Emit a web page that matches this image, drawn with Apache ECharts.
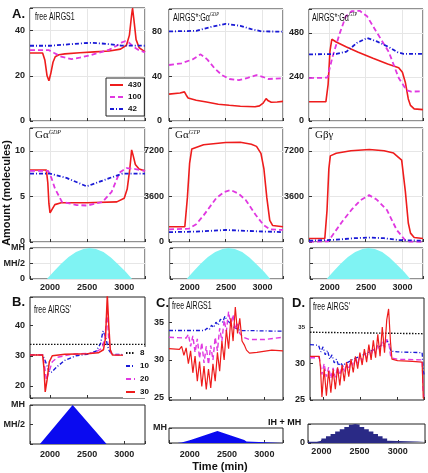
<!DOCTYPE html>
<html>
<head>
<meta charset="utf-8">
<script src="https://cdn.jsdelivr.net/npm/echarts@6/dist/echarts.min.js"></script>
<style>
  html, body { margin: 0; padding: 0; background: #fff; }
  #main { width: 428px; height: 473px; }
</style>
</head>
<body>
<div id="main"></div>
<script>
// ---- data (time in min, amount in molecules) ----
var xTicks = [2000, 2500, 3000];

// A. free AIRGS1
var a1Red  = [[1730,30.1],[1900,30.1],[1930,27],[1960,20],[1985,17.8],[2010,21],[2040,26],[2070,28.4],[2120,29.3],[2200,29.7],[2400,30.2],[2600,30.6],[2800,31.0],[2950,31.8],[3030,33.5],[3070,38],[3100,47],[3112,50],[3130,45],[3160,36],[3200,32.5],[3280,30.6]];
var a1Mag  = [[1730,31.4],[1980,31.4],[2050,30.2],[2150,28.5],[2290,27.4],[2400,28],[2550,29.2],[2700,30.6],[2800,31.6],[2900,33.3],[2970,34.8],[3010,35.3],[3060,34.8],[3120,33],[3200,31.3],[3280,30.4]];
var a1Blue = [[1730,33.3],[2000,33.3],[2200,33.8],[2400,34.3],[2550,34.6],[2700,34.3],[2850,33.8],[2950,33.4],[3280,33.3]];
// A. AIRGS*:Ga-GDP
var a2Red  = [[1730,24],[1880,25],[1940,26],[1965,23],[1990,20.5],[2100,18.5],[2240,17],[2400,15],[2550,14],[2700,13.2],[2900,12.7],[2960,13.5],[3010,16],[3050,20],[3080,18],[3120,16.7],[3200,17],[3280,17.5]];
var a2Mag  = [[1730,50],[1900,51.5],[2050,55],[2160,59.5],[2250,55],[2350,47],[2450,41],[2550,37.5],[2680,36.5],[2800,38.5],[2920,41],[3000,39.5],[3080,37.5],[3280,38.2]];
var a2Blue = [[1730,80],[2100,80.5],[2300,84],[2500,86.8],[2700,85],[2850,82],[2990,80],[3280,79.8]];
// A. AIRGS*:Ga-GTP
var a3Red  = [[1730,105],[1960,105],[1990,200],[2015,380],[2040,445],[2100,430],[2240,403],[2400,375],[2600,342],[2800,310],[2950,290],[3000,265],[3040,210],[3080,120],[3110,85],[3160,66],[3280,62]];
var a3Mag  = [[1730,234],[1980,236],[2050,350],[2150,480],[2230,570],[2310,598],[2420,600],[2520,570],[2640,490],[2815,376],[2950,234],[3056,168],[3120,160],[3280,162]];
var a3Blue = [[1730,363],[2100,365],[2240,378],[2380,425],[2520,452],[2660,432],[2815,403],[2930,375],[3016,366],[3280,365]];
// A. Ga-GDP
var a4Red  = [[1730,7.9],[1950,7.9],[1970,6.5],[1985,4.2],[2000,3.2],[2025,3.3],[2065,4.1],[2150,4.3],[2500,4.3],[2900,4.4],[3000,4.8],[3040,5.8],[3075,8],[3100,10.1],[3120,9.5],[3150,8.5],[3200,8.0],[3280,7.8]];
var a4Mag  = [[1730,7.8],[1975,7.8],[2020,7],[2065,5.9],[2160,4.4],[2360,4.05],[2500,4.0],[2708,4.4],[2830,5.5],[2936,7.6],[3030,8.1],[3150,8.0],[3280,7.8]];
var a4Blue = [[1730,7.5],[2000,7.5],[2230,7.0],[2494,6.1],[2800,7.0],[2976,7.5],[3280,7.5]];
// A. Ga-GTP
var a5Red  = [[1730,1200],[1945,1200],[1980,3500],[2010,6200],[2040,7350],[2200,7680],[2500,7850],[2700,7870],[2850,7720],[2920,7550],[2980,7000],[3020,5800],[3060,3500],[3100,1700],[3140,1300],[3280,1200]];
var a5Mag  = [[1730,1000],[2000,1050],[2100,1400],[2200,2100],[2370,3450],[2480,3950],[2570,4100],[2680,3800],[2775,3300],[2910,2130],[3016,1340],[3100,1000],[3280,950]];
var a5Blue = [[1730,780],[2100,820],[2500,950],[2900,850],[3280,780]];
// A. Gbg
var a6Red  = [[1730,280],[1945,280],[1975,2500],[2000,5800],[2020,6800],[2100,7000],[2300,7200],[2550,7300],[2750,7200],[2880,7020],[2990,6470],[3040,4000],[3080,1500],[3110,700],[3160,350],[3280,280]];
var a6Mag  = [[1730,30],[1990,50],[2052,550],[2180,1600],[2306,2530],[2430,3300],[2547,3700],[2650,3350],[2789,2530],[2923,950],[3043,100],[3100,30],[3280,20]];
var a6Blue = [[1730,100],[2100,180],[2350,300],[2550,350],[2750,300],[2950,150],[3280,100]];
// A. MH input (fraction of MH)
var stripA = [[1730,0],[1958,0],[2050,0.24],[2150,0.49],[2250,0.71],[2350,0.87],[2450,0.97],[2530,1],[2620,0.97],[2720,0.87],[2820,0.69],[2920,0.47],[3020,0.23],[3105,0],[3280,0]];

// B. free AIRGS'
var bBlack = [[1730,33.8],[3280,33.8]];
var bBlue  = [[1730,30.3],[1900,30.3],[1940,28],[1990,24.5],[2020,24.6],[2100,26.5],[2200,28.5],[2350,30],[2500,30.5],[2620,31.5],[2680,34],[2715,38.3],[2750,36],[2790,32],[2830,30.5],[3280,30.2]];
var bMag   = [[1730,30.3],[1900,30.3],[1925,27],[1950,22],[1975,23.8],[2030,28],[2100,29.5],[2300,30.5],[2600,31],[2700,32.5],[2740,36],[2768,44.5],[2790,36],[2820,31],[2860,30.3],[3280,30.2]];
var bRed   = [[1730,30.3],[1900,30.3],[1918,26],[1935,18],[1960,22],[1990,28],[2030,30],[2200,30.5],[2500,30.7],[2650,31],[2720,32],[2748,36],[2772,50],[2792,40],[2812,32],[2840,30.3],[3280,30.2]];
var stripB = [[1730,0],[1864,0],[2305,1],[2762,0],[3280,0]];

// C. free AIRGS1
var cRed  = [[1720,31.5],[1860,31.4],[1890,31.8],[1920,30.6],[1950,31.6],[1980,29.5],[2010,31.2],[2040,28.3],[2070,30.5],[2100,27.2],[2130,29.8],[2160,26.5],[2190,29.2],[2220,26.1],[2250,28.8],[2280,26.3],[2310,29.5],[2340,27.2],[2370,31.0],[2400,28.5],[2430,32.5],[2460,30.0],[2490,34.0],[2520,31.5],[2550,35.5],[2580,32.5],[2610,37.0],[2640,33.5],[2670,35.5],[2700,32.5],[2730,32.0],[2760,31.3],[2800,30.9],[2900,31.0],[3100,31.3],[3250,31.2]];
var cMag  = [[1720,33],[1950,32.9],[1980,33.4],[2010,31.8],[2040,33.2],[2070,31.0],[2100,32.8],[2130,30.2],[2160,32.3],[2190,29.6],[2220,31.8],[2250,29.4],[2280,31.9],[2310,30.0],[2340,33.0],[2370,31.2],[2400,34.2],[2430,32.5],[2460,35.3],[2490,33.8],[2520,36.4],[2550,34.5],[2580,36.0],[2610,34.0],[2640,35.0],[2670,33.5],[2720,33.0],[2800,32.7],[3000,32.7],[3250,33.0]];
var cBlue = [[1720,33.9],[2200,33.9],[2230,34.2],[2260,34.0],[2290,34.6],[2320,34.3],[2350,35.0],[2380,34.6],[2410,35.4],[2440,35.0],[2470,35.8],[2500,35.2],[2530,35.0],[2560,34.6],[2600,34.3],[2650,34.0],[2700,33.9],[3250,33.8]];
var stripC = [[1720,0],[1830,0.04],[1890,0.12],[1950,0.2],[2010,0.3],[2070,0.4],[2130,0.5],[2190,0.6],[2250,0.7],[2310,0.8],[2370,0.7],[2430,0.6],[2490,0.5],[2550,0.4],[2610,0.3],[2670,0.2],[2730,0.1],[2760,0],[3250,0]];

// D. free AIRGS'
var dBlack = [[1825,34.3],[3355,34.1]];
var dRed  = [[1825,31.0],[1950,31.0],[1965,29.5],[1985,25.4],[2015,29.3],[2045,25.6],[2075,29.0],[2105,26.0],[2135,29.2],[2165,26.5],[2195,29.5],[2225,27.0],[2255,29.8],[2285,27.6],[2315,30.2],[2345,28.2],[2375,30.6],[2405,28.8],[2435,31.0],[2465,29.3],[2495,31.5],[2525,29.8],[2555,32.0],[2585,30.2],[2615,32.6],[2645,30.5],[2675,33.2],[2705,30.8],[2735,34.0],[2765,31.0],[2795,35.0],[2825,31.5],[2855,36.0],[2880,37.5],[2905,33.0],[2925,30.6],[3000,30.4],[3200,30.3],[3330,30.2],[3345,25.3],[3355,25.2]];
var dMag  = [[1825,30.8],[1950,30.8],[1985,28.5],[2015,30.0],[2045,28.2],[2075,29.5],[2105,28.0],[2135,29.4],[2165,28.1],[2195,29.5],[2225,28.4],[2255,29.7],[2285,28.8],[2315,30.0],[2345,29.2],[2375,30.4],[2405,29.6],[2435,30.8],[2465,30.0],[2495,31.1],[2525,30.4],[2555,31.5],[2585,30.8],[2615,31.8],[2645,31.1],[2675,32.2],[2705,31.4],[2735,32.6],[2765,31.8],[2795,33.0],[2825,32.2],[2855,33.3],[2880,33.0],[2910,30.8],[3000,30.6],[3330,30.5],[3345,26],[3355,25.5]];
var dBlue = [[1825,32.6],[1940,32.5],[1970,31.6],[2000,32.3],[2030,31.2],[2060,31.8],[2090,30.6],[2120,31.2],[2150,30.1],[2180,30.6],[2210,29.7],[2240,30.1],[2270,29.6],[2300,30.1],[2340,30.2],[2400,30.6],[2500,31.0],[2600,31.5],[2700,32.0],[2800,32.6],[2860,33.2],[2890,32.5],[2910,31.7],[3000,31.6],[3330,31.5],[3345,29],[3355,28.5]];
var stripD = [[1825,0.06],[1880,0.06],[1940,0.12],[2000,0.24],[2060,0.36],[2120,0.48],[2180,0.6],[2240,0.72],[2300,0.84],[2360,0.96],[2400,1],[2440,0.96],[2500,0.84],[2560,0.72],[2620,0.6],[2680,0.48],[2740,0.36],[2800,0.24],[2860,0.12],[2890,0.06],[3355,0.06]];

// ---- chart ----
var chart = echarts.init(document.getElementById('main'));
var FONT = '"Liberation Sans", Arial, sans-serif';
var RED = '#ee1c1c', MAG = '#e038e0', BLUE = '#1a1ad6';
var grid = [], xAxis = [], yAxis = [], series = [];

function fmt(vals, names) {
  return function (v) {
    for (var i = 0; i < vals.length; i++) {
      if (Math.abs(v - vals[i]) < 1e-6) return names ? names[i] : String(vals[i]);
    }
    return '';
  };
}

function panel(o) {
  var i = grid.length;
  grid.push({ left: o.box[0], top: o.box[1], width: o.box[2], height: o.box[3],
    show: true, borderColor: '#222', borderWidth: 1, backgroundColor: '#fff' });
  xAxis.push({ type: 'value', gridIndex: i, min: o.x[0], max: o.x[1],
    splitNumber: 3, minInterval: 500, maxInterval: 500,
    axisLine: { show: false },
    axisTick: { show: true, inside: true, length: 3, lineStyle: { color: '#333' } },
    axisLabel: { show: !!o.xlab, formatter: fmt(xTicks), fontSize: 9, fontWeight: 'bold',
      fontFamily: FONT, color: '#222', margin: o.xm || 4 },
    splitLine: { show: o.noGrid ? false : true, lineStyle: { color: '#e6e6e6' } } });
  yAxis.push({ type: 'value', gridIndex: i, min: o.y[0], max: o.y[1],
    splitNumber: 3, minInterval: o.step, maxInterval: o.step,
    axisLine: { show: false },
    axisTick: { show: true, inside: true, length: 3, lineStyle: { color: '#333' } },
    axisLabel: { formatter: fmt(o.yv, o.yn), fontSize: 9, fontWeight: 'bold',
      fontFamily: FONT, color: '#222', margin: o.ym || 5, rich: o.rich },
    splitLine: { show: o.noGrid ? false : true, lineStyle: { color: '#e6e6e6' } } });
  return i;
}

function line(g, name, data, color, kind, w) {
  var type = kind === 'dash' ? [5, 3] : kind === 'dashdot' ? [4, 2, 1, 2] : kind === 'dot' ? [1.5, 1.5] : 'solid';
  series.push({ type: 'line', name: name, xAxisIndex: g, yAxisIndex: g, data: data,
    symbol: 'none', animation: false, silent: true,
    lineStyle: { color: color, width: w, type: type }, itemStyle: { color: color } });
}

function area(g, data, color, step) {
  series.push({ type: 'line', xAxisIndex: g, yAxisIndex: g, data: data, step: step || false,
    symbol: 'none', animation: false, silent: true,
    lineStyle: { width: 0 }, areaStyle: { color: color, opacity: 1 } });
}

var XA = [1730, 3280];
var g;
g = panel({ box: [30, 8, 115, 113], x: XA, y: [0, 50], step: 20, yv: [0, 20, 40] });
line(g, '430', a1Red, RED, 'solid', 1.6); line(g, '100', a1Mag, MAG, 'dash', 1.8); line(g, '42', a1Blue, BLUE, 'dashdot', 1.8);
g = panel({ box: [169, 9, 114, 112], x: XA, y: [0, 100], step: 40, yv: [0, 40, 80], ym: 7 });
line(g, '430', a2Red, RED, 'solid', 1.6); line(g, '100', a2Mag, MAG, 'dash', 1.8); line(g, '42', a2Blue, BLUE, 'dashdot', 1.8);
g = panel({ box: [309, 9, 114, 112], x: XA, y: [0, 610], step: 240, yv: [0, 240, 480] });
line(g, '430', a3Red, RED, 'solid', 1.6); line(g, '100', a3Mag, MAG, 'dash', 1.8); line(g, '42', a3Blue, BLUE, 'dashdot', 1.8);
g = panel({ box: [30, 128, 115, 114], x: XA, y: [0, 12.5], step: 5, yv: [0, 5, 10] });
line(g, '430', a4Red, RED, 'solid', 1.6); line(g, '100', a4Mag, MAG, 'dash', 1.8); line(g, '42', a4Blue, BLUE, 'dashdot', 1.8);
g = panel({ box: [169, 128, 114, 114], x: XA, y: [0, 9000], step: 3600, yv: [0, 3600, 7200] });
line(g, '430', a5Red, RED, 'solid', 1.6); line(g, '100', a5Mag, MAG, 'dash', 1.8); line(g, '42', a5Blue, BLUE, 'dashdot', 1.8);
g = panel({ box: [309, 128, 114, 114], x: XA, y: [0, 9000], step: 3600, yv: [0, 3600, 7200] });
line(g, '430', a6Red, RED, 'solid', 1.6); line(g, '100', a6Mag, MAG, 'dash', 1.8); line(g, '42', a6Blue, BLUE, 'dashdot', 1.8);

g = panel({ box: [30, 248, 115, 31], x: XA, y: [0, 1], step: 0.5, yv: [0, 0.5, 1], yn: ['0', 'MH/2', 'MH'], xlab: true, xm: 4 });
area(g, stripA, '#7ff3f3');
g = panel({ box: [170, 248, 113, 31], x: XA, y: [0, 1], step: 0.5, yv: [], xlab: true, xm: 4 });
area(g, stripA, '#7ff3f3');
g = panel({ box: [310, 248, 113, 31], x: XA, y: [0, 1], step: 0.5, yv: [], xlab: true, xm: 4 });
area(g, stripA, '#7ff3f3');

// B
g = panel({ box: [30, 297, 115, 101], x: XA, y: [16, 49.5], step: 10, yv: [20, 30, 40], noGrid: true });
line(g, '8', bBlack, '#111', 'dot', 1.4); line(g, '10', bBlue, BLUE, 'dashdot', 1.4);
line(g, '20', bMag, MAG, 'dash', 1.4); line(g, '30', bRed, RED, 'solid', 1.5);
g = panel({ box: [30, 405, 115, 39], x: XA, y: [0, 1], step: 0.5, yv: [0.5, 1], yn: ['MH/2', 'MH'], xlab: true, xm: 6, noGrid: true });
area(g, stripB, '#0a0af0');

// C
var XC = [1720, 3250];
g = panel({ box: [169, 298, 114, 102], x: XC, y: [24.7, 38.2], step: 5, yv: [25, 30, 35], noGrid: true });
line(g, 'c42', cBlue, BLUE, 'dashdot', 1.3); line(g, 'c100', cMag, MAG, 'dash', 1.4); line(g, 'c430', cRed, RED, 'solid', 1.2);
g = panel({ box: [169, 428, 114, 15], x: XC, y: [0, 1], step: 1, yv: [1], yn: ['MH'], xlab: true, xm: 7, noGrid: true, ym: 2 });
area(g, stripC, '#0a0af0', 'end');

// D
var XD = [1825, 3355];
g = panel({ box: [310, 298, 114, 102], x: XD, y: [25, 39], step: 5, yv: [25, 30, 35], yn: ['25', '30', '{s|35}'],
  rich: { s: { fontSize: 6, fontWeight: 'bold', fontFamily: FONT, color: '#222' } }, noGrid: true });
line(g, 'd8', dBlack, '#111', 'dot', 1.4); line(g, 'd10', dBlue, BLUE, 'dashdot', 1.3);
line(g, 'd20', dMag, MAG, 'dash', 1.3); line(g, 'd30', dRed, RED, 'solid', 1.2);
g = panel({ box: [308, 424, 118, 19], x: XD, y: [0, 1], step: 1, yv: [0], yn: ['0'], xlab: true, xm: 4, noGrid: true, ym: 3 });
area(g, stripD, '#2a2a86', 'end');

function txt(x, y, s, font, extra) {
  var el = { type: 'text', x: x, y: y, silent: true, z: 100,
    style: { text: s, font: font, fill: '#111', textAlign: 'left', textVerticalAlign: 'top', verticalAlign: 'top' } };
  for (var k in extra || {}) el[k] = extra[k];
  return el;
}
var SANS = '10px "Liberation Sans", Arial, sans-serif';
var SERIF = '"Liberation Serif", "Times New Roman", serif';
var supRich = {
  a: { font: SANS, verticalAlign: 'bottom', lineHeight: 12 },
  g: { font: '11px ' + SERIF, verticalAlign: 'bottom', lineHeight: 12 },
  s: { font: 'italic 6px ' + SERIF, verticalAlign: 'top', lineHeight: 12 }
};
function rtxt(x, y, s, sx) {
  return { type: 'text', x: x, y: y, scaleX: sx || 1, silent: true, z: 100,
    style: { text: s, rich: supRich, fill: '#111', textVerticalAlign: 'top', verticalAlign: 'top' } };
}

var graphic = [
  txt(12, 8, 'A.', 'bold 13px ' + FONT),
  txt(12, 296, 'B.', 'bold 13px ' + FONT),
  txt(156, 297, 'C.', 'bold 13px ' + FONT),
  txt(292, 297, 'D.', 'bold 13px ' + FONT),
  txt(35, 12, 'free AIRGS1', SANS, { scaleX: 0.7 }),
  rtxt(173, 11, '{a|AIRGS*:Gα}{s|GDP}', 0.72),
  rtxt(312, 11, '{a|AIRGS*:Gα}{s|GTP}', 0.72),
  rtxt(35, 129, '{g|Gα}{s|GDP}'),
  rtxt(175, 129, '{g|Gα}{s|GTP}'),
  rtxt(315, 129, '{g|Gβγ}'),
  txt(34, 305, "free AIRGS'", SANS, { scaleX: 0.7 }),
  txt(172, 301, 'free AIRGS1', SANS, { scaleX: 0.7 }),
  txt(313, 302, "free AIRGS'", SANS, { scaleX: 0.7 }),
  txt(268, 418, 'IH + MH', 'bold 9px ' + FONT),
  { type: 'text', x: 1, y: 193, rotation: Math.PI / 2, silent: true, z: 100,
    style: { text: 'Amount (molecules)', font: 'bold 11px ' + FONT, fill: '#111',
      textAlign: 'center', textVerticalAlign: 'top', verticalAlign: 'top' } },
  txt(220, 461, 'Time (min)', 'bold 11px ' + FONT, {}),
];
graphic[graphic.length - 1].style.textAlign = 'center';

chart.setOption({
  animation: false,
  backgroundColor: '#fff',
  grid: grid, xAxis: xAxis, yAxis: yAxis, series: series,
  legend: [
    { data: ['430', '100', '42'], orient: 'vertical', left: 106, top: 78,
      itemWidth: 13, itemHeight: 8, itemGap: 4, padding: [3, 3, 3, 3],
      borderColor: '#222', borderWidth: 1, backgroundColor: '#fff', selectedMode: false,
      itemStyle: { opacity: 0 },
      textStyle: { fontSize: 8, fontWeight: 'bold', fontFamily: FONT, color: '#111' } },
    { data: ['8', '10', '20', '30'], orient: 'vertical', left: 123, top: 347,
      itemWidth: 9, itemHeight: 9, itemGap: 5, padding: [2, 2, 2, 2],
      backgroundColor: '#fff', selectedMode: false,
      itemStyle: { opacity: 0 },
      textStyle: { fontSize: 8, fontWeight: 'bold', fontFamily: FONT, color: '#111' } }
  ],
  graphic: graphic
});
</script>
</body>
</html>
